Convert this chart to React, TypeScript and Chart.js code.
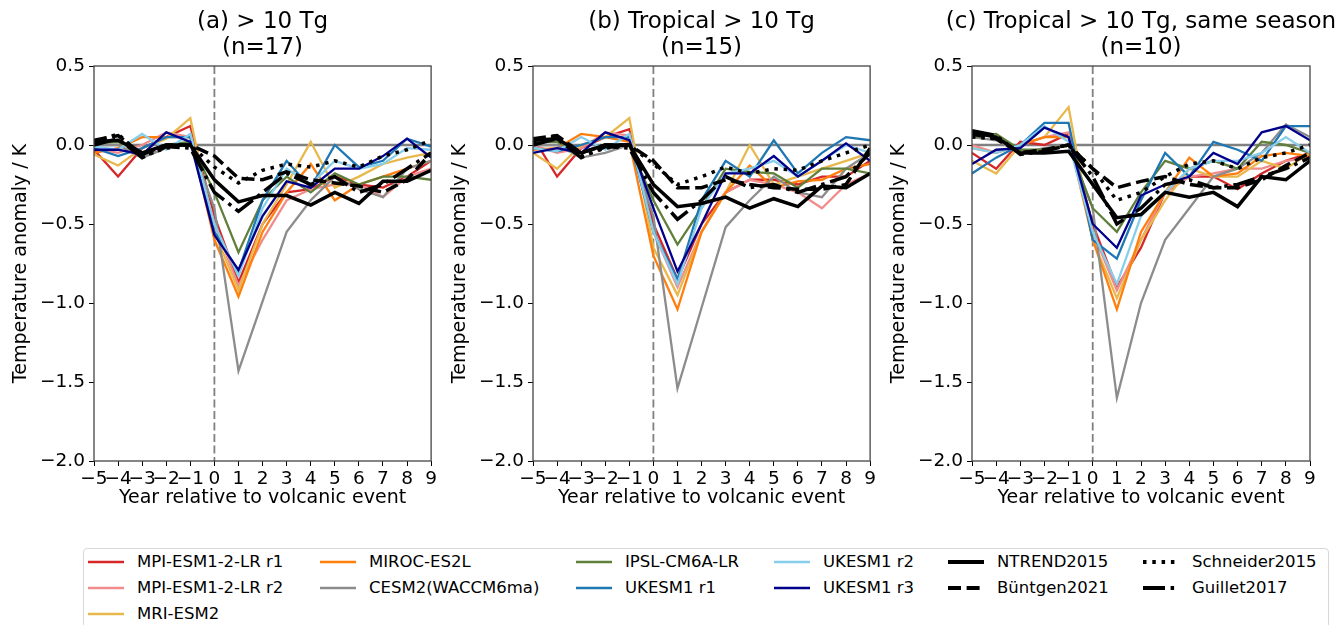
import React, { useEffect, useRef } from 'react';
import { Chart, registerables } from 'chart.js';
Chart.register(...registerables);

const FONT = "'DejaVu Sans', sans-serif";
Chart.defaults.font.family = FONT;

const years = [-5, -4, -3, -2, -1, 0, 1, 2, 3, 4, 5, 6, 7, 8, 9];
const yTicks = [-2.0, -1.5, -1.0, -0.5, 0.0, 0.5];

const modelNames = ['MPI-ESM1-2-LR r1', 'MPI-ESM1-2-LR r2', 'MRI-ESM2', 'MIROC-ES2L', 'CESM2(WACCM6ma)', 'IPSL-CM6A-LR', 'UKESM1 r1', 'UKESM1 r2', 'UKESM1 r3'];
const modelColors = ['#d62728', '#f08c8c', '#e8b84c', '#ff7f0e', '#8c8c8c', '#5f7f3a', '#1f77b4', '#87ceeb', '#00008b'];
const reconNames = ['NTREND2015', 'Büntgen2021', 'Schneider2015', 'Guillet2017'];
const reconDash = [[], [13, 5.6], [3.5, 5.8], [22, 5.6, 3.5, 5.6]];

const panelTitles = [
  ['(a) > 10 Tg', '(n=17)'],
  ['(b) Tropical > 10 Tg', '(n=15)'],
  ['(c) Tropical > 10 Tg, same season', '(n=10)'],
];

// Panel (a)
const mpi1A = [-0.03, -0.20, -0.02, 0.05, 0.12, -0.45, -0.87, -0.50, -0.30, -0.28, -0.20, -0.25, -0.27, -0.20, -0.10];
const mpi2A = [-0.02, -0.05, 0.00, 0.08, 0.05, -0.50, -0.89, -0.60, -0.35, -0.28, -0.25, -0.25, -0.33, -0.20, -0.15];
const mriA = [-0.06, -0.13, -0.02, 0.04, 0.17, -0.55, -0.92, -0.50, -0.25, 0.02, -0.27, -0.20, -0.12, -0.08, -0.05];
const mirocA = [-0.05, -0.02, 0.05, 0.05, 0.05, -0.60, -0.96, -0.55, -0.30, -0.12, -0.35, -0.25, -0.20, -0.15, -0.10];
const cesmA = [0.00, 0.00, -0.08, -0.02, 0.02, -0.40, -1.43, -0.99, -0.55, -0.35, -0.20, -0.28, -0.33, -0.15, -0.10];
const ipslA = [0.01, 0.02, -0.05, 0.00, 0.02, -0.30, -0.68, -0.35, -0.20, -0.30, -0.18, -0.25, -0.20, -0.20, -0.22];
const uk1A = [-0.02, -0.07, -0.02, 0.05, 0.05, -0.55, -0.80, -0.35, -0.10, -0.27, 0.00, -0.14, -0.10, 0.04, -0.01];
const uk2A = [-0.01, -0.03, 0.07, -0.03, 0.07, -0.50, -0.83, -0.40, -0.15, -0.25, -0.10, -0.15, -0.12, -0.02, -0.03];
const uk3A = [-0.03, -0.03, -0.06, 0.08, 0.02, -0.57, -0.79, -0.45, -0.23, -0.27, -0.15, -0.15, -0.07, 0.04, -0.08];
const ntrendA = [0.02, 0.03, -0.05, 0.00, 0.00, -0.22, -0.36, -0.32, -0.32, -0.38, -0.30, -0.37, -0.23, -0.23, -0.16];
const buntgenA = [0.03, 0.06, -0.06, 0.00, 0.00, -0.07, -0.21, -0.22, -0.17, -0.22, -0.24, -0.26, -0.30, -0.22, -0.05];
const schneiderA = [0.02, 0.07, -0.07, -0.02, 0.00, -0.14, -0.24, -0.16, -0.12, -0.14, -0.10, -0.14, -0.07, -0.03, 0.03];
const guilletA = [0.00, 0.04, -0.08, -0.01, -0.02, -0.30, -0.42, -0.30, -0.18, -0.25, -0.20, -0.30, -0.25, -0.15, -0.05];

// Panel (b)
const mpi1B = [0.05, -0.20, -0.02, 0.05, 0.10, -0.50, -0.85, -0.50, -0.30, -0.22, -0.22, -0.25, -0.20, -0.20, -0.10];
const mpi2B = [0.00, -0.05, -0.02, 0.08, 0.06, -0.55, -0.90, -0.55, -0.30, -0.22, -0.25, -0.30, -0.40, -0.25, -0.18];
const mriB = [-0.05, -0.15, 0.00, 0.05, 0.17, -0.65, -0.95, -0.55, -0.30, 0.00, -0.25, -0.20, -0.15, -0.10, -0.05];
const mirocB = [-0.03, -0.02, 0.07, 0.05, 0.02, -0.70, -1.04, -0.55, -0.30, -0.13, -0.27, -0.23, -0.22, -0.15, -0.12];
const cesmB = [0.00, 0.00, -0.08, -0.05, 0.00, -0.45, -1.54, -1.03, -0.52, -0.35, -0.20, -0.30, -0.33, -0.15, -0.05];
const ipslB = [0.02, 0.02, -0.05, 0.00, 0.00, -0.35, -0.63, -0.40, -0.15, -0.17, -0.18, -0.27, -0.15, -0.15, -0.18];
const uk1B = [-0.02, -0.04, 0.00, 0.05, 0.05, -0.55, -0.85, -0.35, -0.10, -0.20, 0.03, -0.18, -0.05, 0.05, 0.03];
const uk2B = [-0.02, -0.04, 0.05, -0.03, 0.07, -0.55, -0.88, -0.40, -0.18, -0.15, -0.10, -0.20, -0.10, 0.00, -0.05];
const uk3B = [-0.05, -0.02, -0.05, 0.08, 0.03, -0.40, -0.80, -0.50, -0.18, -0.18, -0.07, -0.20, -0.10, 0.01, -0.10];
const ntrendB = [0.03, 0.04, -0.05, 0.00, 0.00, -0.25, -0.39, -0.37, -0.33, -0.40, -0.34, -0.39, -0.26, -0.27, -0.18];
const buntgenB = [0.04, 0.06, -0.05, 0.00, 0.00, -0.10, -0.27, -0.27, -0.22, -0.25, -0.27, -0.28, -0.28, -0.25, -0.02];
const schneiderB = [0.02, 0.06, -0.07, -0.02, 0.00, -0.12, -0.25, -0.20, -0.14, -0.18, -0.15, -0.16, -0.10, -0.05, 0.00];
const guilletB = [0.00, 0.04, -0.08, -0.01, -0.02, -0.30, -0.47, -0.35, -0.20, -0.27, -0.25, -0.30, -0.25, -0.20, -0.05];

// Panel (c)
const mpi1C = [-0.05, -0.15, 0.02, 0.00, 0.07, -0.50, -0.90, -0.65, -0.30, -0.20, -0.20, -0.28, -0.18, -0.10, -0.05];
const mpi2C = [0.00, -0.05, 0.00, 0.05, 0.08, -0.55, -0.92, -0.60, -0.30, -0.20, -0.18, -0.15, -0.15, -0.10, -0.08];
const mriC = [-0.10, -0.18, 0.00, 0.05, 0.24, -0.60, -0.97, -0.60, -0.35, -0.15, -0.20, -0.20, -0.10, -0.15, -0.05];
const mirocC = [-0.02, -0.05, 0.00, 0.05, 0.05, -0.60, -1.04, -0.55, -0.30, -0.08, -0.20, -0.18, -0.07, -0.05, -0.07];
const cesmC = [0.05, 0.03, -0.05, -0.02, 0.00, -0.40, -1.60, -1.00, -0.60, -0.40, -0.20, -0.15, -0.05, 0.13, 0.05];
const ipslC = [0.05, 0.07, -0.03, -0.03, 0.00, -0.40, -0.55, -0.30, -0.10, -0.15, -0.10, -0.15, 0.02, 0.00, -0.05];
const uk1C = [-0.18, -0.08, 0.00, 0.14, 0.14, -0.60, -0.72, -0.35, -0.05, -0.20, 0.02, -0.03, -0.10, 0.12, 0.12];
const uk2C = [-0.02, -0.05, 0.00, 0.12, 0.02, -0.55, -0.88, -0.45, -0.30, -0.15, -0.10, -0.10, -0.05, 0.05, -0.05];
const uk3C = [-0.12, -0.03, -0.02, 0.11, 0.05, -0.50, -0.65, -0.32, -0.25, -0.20, -0.05, -0.12, 0.08, 0.12, 0.03];
const ntrendC = [0.08, 0.05, -0.05, -0.05, -0.04, -0.25, -0.46, -0.44, -0.30, -0.33, -0.30, -0.39, -0.20, -0.22, -0.10];
const buntgenC = [0.07, 0.04, -0.05, -0.03, 0.00, -0.15, -0.27, -0.23, -0.20, -0.25, -0.27, -0.27, -0.22, -0.13, -0.05];
const schneiderC = [0.05, 0.04, -0.05, -0.03, 0.00, -0.15, -0.35, -0.30, -0.20, -0.12, -0.10, -0.15, -0.08, -0.05, 0.00];
const guilletC = [0.09, 0.06, -0.06, -0.04, 0.00, -0.20, -0.50, -0.40, -0.25, -0.22, -0.27, -0.25, -0.20, -0.15, -0.08];

const panelModels = [
  [mpi1A, mpi2A, mriA, mirocA, cesmA, ipslA, uk1A, uk2A, uk3A],
  [mpi1B, mpi2B, mriB, mirocB, cesmB, ipslB, uk1B, uk2B, uk3B],
  [mpi1C, mpi2C, mriC, mirocC, cesmC, ipslC, uk1C, uk2C, uk3C],
];
const panelRecons = [
  [ntrendA, buntgenA, schneiderA, guilletA],
  [ntrendB, buntgenB, schneiderB, guilletB],
  [ntrendC, buntgenC, schneiderC, guilletC],
];

const MODEL_LW = 2.3;
const RECON_LW = 3.5;

const minus = (s: string) => s.replace('-', '\u2212');

const refLines = {
  id: 'refLines',
  beforeDatasetsDraw(chart: any) {
    const { ctx, chartArea, scales } = chart;
    const y0 = scales.y.getPixelForValue(0);
    const x0 = scales.x.getPixelForValue(0);
    ctx.save();
    ctx.beginPath();
    ctx.rect(chartArea.left, chartArea.top, chartArea.right - chartArea.left, chartArea.bottom - chartArea.top);
    ctx.clip();
    ctx.strokeStyle = '#808080';
    ctx.lineWidth = 2.5;
    ctx.beginPath();
    ctx.moveTo(chartArea.left, y0);
    ctx.lineTo(chartArea.right, y0);
    ctx.stroke();
    ctx.lineWidth = 1.8;
    ctx.setLineDash([8, 3.5]);
    ctx.beginPath();
    ctx.moveTo(x0, chartArea.top);
    ctx.lineTo(x0, chartArea.bottom);
    ctx.stroke();
    ctx.restore();
  },
  afterDraw(chart: any) {
    const { ctx, chartArea } = chart;
    ctx.save();
    ctx.strokeStyle = '#444';
    ctx.lineWidth = 1.3;
    ctx.strokeRect(chartArea.left, chartArea.top, chartArea.right - chartArea.left, chartArea.bottom - chartArea.top);
    // panel title (two lines), centred on the plot area
    const lines: string[] = chart.options.plugins.panelTitle.lines;
    const cx = (chartArea.left + chartArea.right) / 2;
    ctx.fillStyle = '#000';
    ctx.font = `23px ${FONT}`;
    ctx.textAlign = 'center';
    ctx.textBaseline = 'middle';
    ctx.fillText(lines[0], cx, 22);
    ctx.fillText(lines[1], cx, 48);
    ctx.restore();
  },
};

const PLOT_LEFT = 94;
const PLOT_W = 338;
const CANVAS_H = 520;

function Panel({ index, left, width }: { index: number; left: number; width: number }) {
  const ref = useRef<HTMLCanvasElement>(null);
  useEffect(() => {
    const datasets: any[] = [];
    panelModels[index].forEach((vals, i) => {
      datasets.push({
        label: modelNames[i],
        data: years.map((x, k) => ({ x, y: vals[k] })),
        borderColor: modelColors[i],
        borderWidth: MODEL_LW,
        pointRadius: 0,
        tension: 0,
        fill: false,
        order: 100 - i,
      });
    });
    panelRecons[index].forEach((vals, i) => {
      datasets.push({
        label: reconNames[i],
        data: years.map((x, k) => ({ x, y: vals[k] })),
        borderColor: '#000',
        borderWidth: RECON_LW,
        borderDash: reconDash[i],
        borderCapStyle: 'butt',
        pointRadius: 0,
        tension: 0,
        fill: false,
        order: 50 - i,
      });
    });
    const chart = new Chart(ref.current!, {
      type: 'line',
      data: { datasets },
      plugins: [refLines],
      options: {
        animation: false,
        responsive: false,
        layout: { padding: { left: 0, right: width - PLOT_LEFT - PLOT_W, top: 66, bottom: 9 } },
        plugins: {
          legend: { display: false },
          tooltip: { enabled: false },
          title: { display: false },
          panelTitle: { lines: panelTitles[index] },
        },
        scales: {
          x: {
            type: 'linear',
            min: -5,
            max: 9,
            afterFit: (s: any) => { s.height = 50; },
            ticks: {
              stepSize: 1,
              autoSkip: false,
              maxRotation: 0,
              color: '#000',
              padding: 2,
              font: { size: 18.5, family: FONT },
              callback: (v: any) => minus(String(v)),
            },
            grid: { display: true, drawOnChartArea: false, drawTicks: true, tickLength: 5, color: '#000', lineWidth: 1 },
            border: { display: false },
            title: {
              display: true,
              text: 'Year relative to volcanic event',
              color: '#000',
              font: { size: 19, family: FONT },
              padding: { top: 0, bottom: 2 },
            },
          },
          y: {
            type: 'linear',
            min: -2,
            max: 0.5,
            afterFit: (s: any) => { s.width = PLOT_LEFT; },
            afterBuildTicks: (s: any) => { s.ticks = yTicks.map((v) => ({ value: v })); },
            ticks: {
              color: '#000',
              padding: 4,
              font: { size: 18.5, family: FONT },
              callback: (v: any) => minus(Number(v).toFixed(1)),
            },
            grid: { display: true, drawOnChartArea: false, drawTicks: true, tickLength: 5, color: '#000', lineWidth: 1 },
            border: { display: false },
            title: {
              display: true,
              text: 'Temperature anomaly / K',
              color: '#000',
              font: { size: 19, family: FONT },
              padding: { top: 10, bottom: 0 },
            },
          },
        },
      } as any,
    });
    return () => chart.destroy();
  }, []);
  return (
    <div style={{ position: 'absolute', left, top: 0, width, height: CANVAS_H }}>
      <canvas ref={ref} width={width} height={CANVAS_H} style={{ width, height: CANVAS_H, display: 'block' }} />
    </div>
  );
}

type LegendEntry = { label: string; color: string; dash: number[]; lw: number; col: number; row: number };
const legendColX = [88, 320, 576, 774, 948, 1143];
const legendRowY = [562, 588, 614];
const legendCols = [[0, 1, 2], [3, 4], [5, 6], [7, 8]];

function buildLegend(): LegendEntry[] {
  const out: LegendEntry[] = [];
  legendCols.forEach((idxs, c) => {
    idxs.forEach((mi, r) => {
      out.push({ label: modelNames[mi], color: modelColors[mi], dash: [], lw: MODEL_LW + 0.4, col: c, row: r });
    });
  });
  [[0, 1], [2, 3]].forEach((idxs, c) => {
    idxs.forEach((ri, r) => {
      out.push({ label: reconNames[ri], color: '#000', dash: reconDash[ri], lw: RECON_LW + 0.5, col: 4 + c, row: r });
    });
  });
  return out;
}

function Legend() {
  const entries = buildLegend();
  return (
    <>
      <div
        style={{
          position: 'absolute',
          left: 83,
          top: 548,
          width: 1246,
          height: 90,
          border: '1px solid #d8d8d8',
          borderRadius: 4,
          boxSizing: 'border-box',
          background: '#fff',
        }}
      />
      {entries.map((e) => (
        <div key={e.label} style={{ position: 'absolute', left: legendColX[e.col], top: legendRowY[e.row] - 12, height: 24, display: 'flex', alignItems: 'center' }}>
          <svg width={36} height={24} style={{ display: 'block' }}>
            <line x1={0} y1={12} x2={36} y2={12} stroke={e.color} strokeWidth={e.lw} strokeDasharray={e.dash.length ? e.dash.join(' ') : undefined} />
          </svg>
          <span style={{ marginLeft: 13, fontFamily: FONT, fontSize: 16.5, color: '#000', whiteSpace: 'nowrap', lineHeight: '24px' }}>{e.label}</span>
        </div>
      ))}
    </>
  );
}

export default function App() {
  return (
    <div style={{ position: 'absolute', left: 0, top: 0, width: 1341, height: 625, background: '#fff', overflow: 'hidden' }}>
      <Panel index={0} left={0} width={439} />
      <Panel index={1} left={439} width={439} />
      <Panel index={2} left={878} width={463} />
      <Legend />
    </div>
  );
}
